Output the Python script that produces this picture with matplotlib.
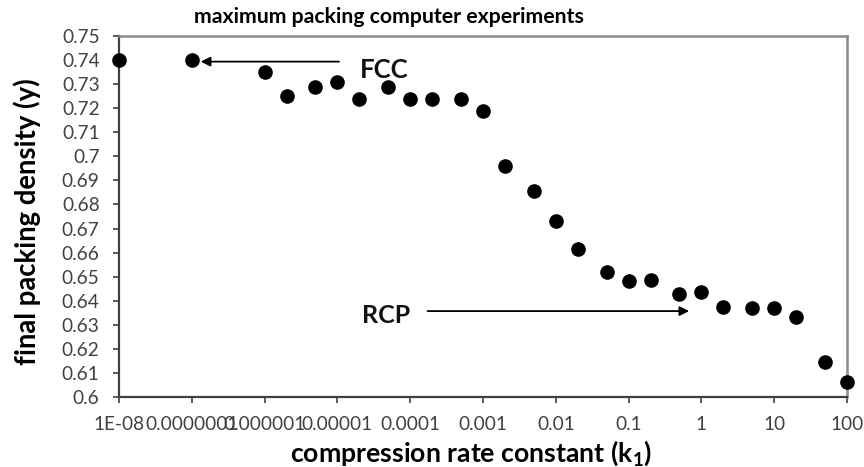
import matplotlib.pyplot as plt
from matplotlib.ticker import FixedLocator, FixedFormatter, FuncFormatter

# compression rate constant k1 and the resulting final packing density
k1 = [1e-8, 1e-7, 1e-6, 2e-6, 5e-6, 1e-5, 2e-5, 5e-5, 1e-4, 2e-4, 5e-4, 1e-3,
      2e-3, 5e-3, 1e-2, 2e-2, 5e-2, 0.1, 0.2, 0.5, 1, 2, 5, 10, 20, 50, 100]
density = [0.740, 0.740, 0.735, 0.725, 0.729, 0.731, 0.724, 0.729, 0.724, 0.724, 0.724, 0.719,
           0.696, 0.6855, 0.673, 0.6615, 0.652, 0.648, 0.6485, 0.643, 0.6435, 0.6375, 0.637, 0.637, 0.6333, 0.6146, 0.6063]

x_ticks = [1e-8, 1e-7, 1e-6, 1e-5, 1e-4, 1e-3, 1e-2, 0.1, 1, 10, 100]
x_tick_labels = ['1E-08', '0.0000001', '0.000001', '0.00001', '0.0001', '0.001',
                 '0.01', '0.1', '1', '10', '100']
y_ticks = [0.60 + 0.01 * i for i in range(16)]

plt.rcParams['font.family'] = ['Lato', 'DejaVu Sans']

fig = plt.figure(figsize=(8.64, 4.67), dpi=100)
ax = fig.add_axes([119 / 864, 1 - 397 / 467, 728 / 864, 361 / 467])

ax.plot(k1, density, 'o', color='black', markersize=9.5, clip_on=False, zorder=5)

ax.set_xscale('log')
ax.set_xlim(1e-8, 100)
ax.set_ylim(0.6, 0.75)
ax.xaxis.set_major_locator(FixedLocator(x_ticks))
ax.xaxis.set_major_formatter(FixedFormatter(x_tick_labels))
ax.xaxis.set_minor_locator(FixedLocator([]))
ax.yaxis.set_major_locator(FixedLocator(y_ticks))
ax.yaxis.set_major_formatter(FuncFormatter(lambda v, p: '{:g}'.format(round(v, 2))))

ax.tick_params(axis='both', direction='out', length=4, width=1.2, color='#404040',
               labelsize=13.7, labelcolor='#404040')
ax.tick_params(axis='y', pad=10)
ax.tick_params(axis='x', pad=10)

for side in ('left', 'bottom'):
    ax.spines[side].set_color('#404040')
    ax.spines[side].set_linewidth(1.6)
for side in ('top', 'right'):
    ax.spines[side].set_color('#8c8c8c')
    ax.spines[side].set_linewidth(1.8)

# annotation arrows
ax.annotate('', xy=(0.1085, 0.929), xytext=(0.306, 0.929), xycoords='axes fraction',
            arrowprops=dict(arrowstyle='-|>', color='black', lw=1.3, mutation_scale=14))
ax.text(0.331, 0.906, 'FCC', transform=ax.transAxes, fontsize=18.5, fontweight='bold',
        ha='left', va='center', color='#111111')
ax.annotate('', xy=(0.787, 0.238), xytext=(0.420, 0.238), xycoords='axes fraction',
            arrowprops=dict(arrowstyle='-|>', color='black', lw=1.3, mutation_scale=14))
ax.text(0.367, 0.225, 'RCP', transform=ax.transAxes, fontsize=18, fontweight='bold',
        ha='center', va='center', color='#111111')

fig.text(389 / 864, 1 - 17 / 467, 'maximum packing computer experiments',
         fontsize=15.3, fontweight='bold', ha='center', va='center')
fig.text(27 / 864, 1 - 222 / 467, 'final packing density (y)', fontsize=19.8,
         fontweight='bold', rotation=90, ha='center', va='center')
fig.text(471 / 864, 1 - 453 / 467, 'compression rate constant (k$_\\mathregular{1}$)',
         fontsize=19.2, fontweight='bold', ha='center', va='center')

fig.savefig('out.png', dpi=100)
